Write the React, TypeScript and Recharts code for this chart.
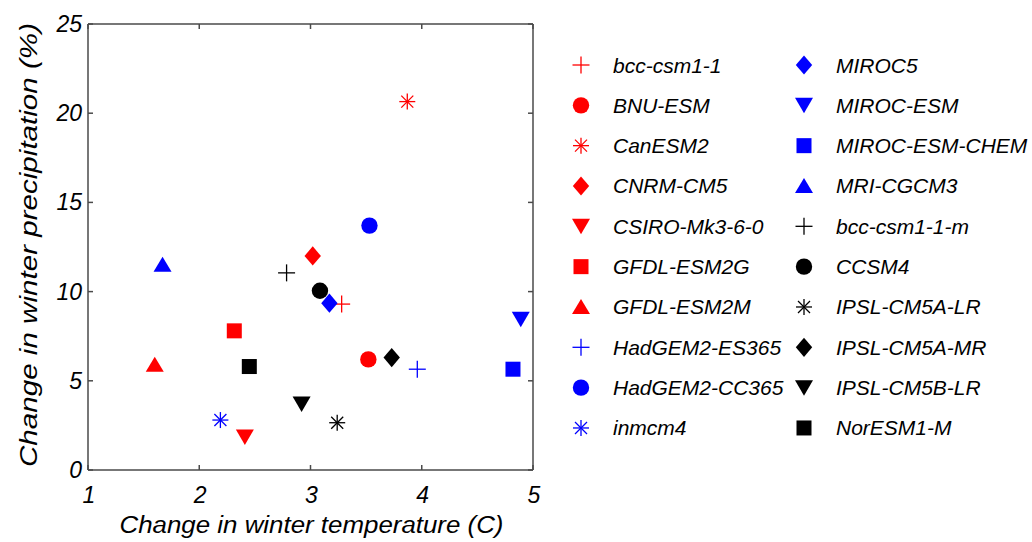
import React from 'react';
import { ScatterChart, Scatter, XAxis, YAxis, Legend, Label } from 'recharts';

const models = [
  'bcc-csm1-1', 'BNU-ESM', 'CanESM2', 'CNRM-CM5', 'CSIRO-Mk3-6-0',
  'GFDL-ESM2G', 'GFDL-ESM2M', 'HadGEM2-ES365', 'HadGEM2-CC365', 'inmcm4',
  'MIROC5', 'MIROC-ESM', 'MIROC-ESM-CHEM', 'MRI-CGCM3', 'bcc-csm1-1-m',
  'CCSM4', 'IPSL-CM5A-LR', 'IPSL-CM5A-MR', 'IPSL-CM5B-LR', 'NorESM1-M',
];
const colors = [
  '#ff0000', '#ff0000', '#ff0000', '#ff0000', '#ff0000',
  '#ff0000', '#ff0000', '#0000ff', '#0000ff', '#0000ff',
  '#0000ff', '#0000ff', '#0000ff', '#0000ff', '#000000',
  '#000000', '#000000', '#000000', '#000000', '#000000',
];
const shapes = [
  'plus', 'circle', 'asterisk', 'diamond', 'down',
  'square', 'up', 'plus', 'circle', 'asterisk',
  'diamond', 'down', 'square', 'up', 'plus',
  'circle', 'asterisk', 'diamond', 'down', 'square',
];
const tempChange = [
  3.28, 3.52, 3.87, 3.02, 2.41,
  2.315, 1.6, 3.96, 3.53, 2.19,
  3.17, 4.89, 4.82, 1.67, 2.785,
  3.085, 3.24, 3.73, 2.92, 2.45,
];
const precipChange = [
  9.3, 6.2, 20.65, 12.0, 1.85,
  7.8, 5.9, 5.65, 13.7, 2.8,
  9.35, 8.45, 5.65, 11.5, 11.05,
  10.05, 2.65, 6.3, 3.7, 5.8,
];
const xTicks = [1, 2, 3, 4, 5];
const yTicks = [0, 5, 10, 15, 20, 25];
const xTitle = 'Change in winter temperature (C)';
const yTitle = 'Change in winter precipitation (%)';

const FONT = '"Liberation Sans", Arial, sans-serif';
const AXIS = '#4a4a4a';

function Marker({ cx, cy, shape, color }: { cx: number; cy: number; shape: string; color: string }) {
  if (cx == null || cy == null || isNaN(cx) || isNaN(cy)) return null;
  switch (shape) {
    case 'plus':
      return (
        <g stroke={color} strokeWidth={1.3}>
          <line x1={cx - 8.5} y1={cy} x2={cx + 8.5} y2={cy} />
          <line x1={cx} y1={cy - 8.5} x2={cx} y2={cy + 8.5} />
        </g>
      );
    case 'circle':
      return <circle cx={cx} cy={cy} r={8.2} fill={color} />;
    case 'asterisk': {
      const d = 6;
      return (
        <g stroke={color} strokeWidth={1.3}>
          <line x1={cx - 8} y1={cy} x2={cx + 8} y2={cy} />
          <line x1={cx} y1={cy - 8} x2={cx} y2={cy + 8} />
          <line x1={cx - d} y1={cy - d} x2={cx + d} y2={cy + d} />
          <line x1={cx - d} y1={cy + d} x2={cx + d} y2={cy - d} />
        </g>
      );
    }
    case 'diamond':
      return (
        <polygon
          points={`${cx},${cy - 9.6} ${cx + 8.2},${cy} ${cx},${cy + 9.6} ${cx - 8.2},${cy}`}
          fill={color}
        />
      );
    case 'down':
      return (
        <polygon
          points={`${cx - 9},${cy - 7.5} ${cx + 9},${cy - 7.5} ${cx},${cy + 8}`}
          fill={color}
        />
      );
    case 'up':
      return (
        <polygon
          points={`${cx - 9},${cy + 7} ${cx + 9},${cy + 7} ${cx},${cy - 8}`}
          fill={color}
        />
      );
    case 'square':
      return <rect x={cx - 7.5} y={cy - 7.5} width={15} height={15} fill={color} />;
    default:
      return null;
  }
}

const legendText = { fontFamily: FONT, fontSize: 21, fontStyle: 'italic' as const, fill: '#000' };
const tickText = { fontFamily: FONT, fontSize: 23, fontStyle: 'italic' as const, fill: '#000' };
const titleText = { fontFamily: FONT, fontSize: 23, fontStyle: 'italic' as const, fill: '#000' };

function BottomTick(props: any) {
  const { x, y, payload } = props;
  return (
    <g>
      <line x1={x} y1={y} x2={x} y2={y - 5} stroke={AXIS} strokeWidth={1.5} />
      <text x={x + 1} y={y + 33} textAnchor="middle" {...tickText}>{payload.value}</text>
    </g>
  );
}
function TopTick(props: any) {
  const { x, y } = props;
  return <line x1={x} y1={y} x2={x} y2={y + 5} stroke={AXIS} strokeWidth={1.5} />;
}
function LeftTick(props: any) {
  const { x, y, payload } = props;
  return (
    <g>
      <line x1={x} y1={y} x2={x + 5} y2={y} stroke={AXIS} strokeWidth={1.5} />
      <text x={x - 6} y={y + 8} textAnchor="end" {...tickText}>{payload.value}</text>
    </g>
  );
}
function RightTick(props: any) {
  const { x, y } = props;
  return <line x1={x} y1={y} x2={x - 5} y2={y} stroke={AXIS} strokeWidth={1.5} />;
}

function XTitle(props: any) {
  const vb = props.viewBox || { x: 88, y: 470, width: 445, height: 0 };
  const cx = vb.x + vb.width / 2 + 1;
  return (
    <text x={cx - 192} y={vb.y + 63} textLength={384} lengthAdjust="spacingAndGlyphs" {...titleText}>
      {xTitle}
    </text>
  );
}
function YTitle(props: any) {
  const vb = props.viewBox || { x: 87, y: 24, width: 1, height: 446 };
  const bx = vb.x + vb.width - 51;
  const cy = vb.y + vb.height / 2 - 2;
  return (
    <g transform={`rotate(-90 ${bx} ${cy})`}>
      <text x={bx - 222} y={cy} textLength={444} lengthAdjust="spacingAndGlyphs" {...titleText}>
        {yTitle}
      </text>
    </g>
  );
}

function LegendBox() {
  const rowH = 40.33;
  return (
    <svg width={472} height={420} style={{ display: 'block', overflow: 'visible' }}>
      {models.map((m, i) => {
        const col = i < 10 ? 0 : 1;
        const row = i % 10;
        const mx = col === 0 ? 21 : 244;
        const tx = col === 0 ? 53 : 276;
        const cy = 25 + row * rowH;
        return (
          <g key={m}>
            <Marker cx={mx} cy={cy} shape={shapes[i]} color={colors[i]} />
            <text x={tx} y={cy + 7.5} {...legendText}>{m}</text>
          </g>
        );
      })}
    </svg>
  );
}

export default function App() {
  return (
    <div style={{ position: 'absolute', left: 0, top: 0, width: 1032, height: 542, background: '#fff' }}>
      <ScatterChart width={1032} height={542} margin={{ top: 23, right: 498, bottom: 71, left: 87 }}>
        <XAxis
          xAxisId="b" type="number" dataKey="x" domain={[1, 5]} ticks={xTicks}
          height={1} tickSize={0} tickMargin={0} tick={<BottomTick />}
          axisLine={{ stroke: AXIS, strokeWidth: 1.5 }} tickLine={false} allowDataOverflow
          label={<Label content={<XTitle />} />}
        />
        <XAxis
          xAxisId="t" orientation="top" type="number" dataKey="x" domain={[1, 5]} ticks={xTicks}
          height={1} tickSize={0} tickMargin={0} tick={<TopTick />}
          axisLine={{ stroke: AXIS, strokeWidth: 1.5 }} tickLine={false} allowDataOverflow
        />
        <YAxis
          yAxisId="l" type="number" dataKey="y" domain={[0, 25]} ticks={yTicks}
          width={1} tickSize={0} tickMargin={0} tick={<LeftTick />}
          axisLine={{ stroke: AXIS, strokeWidth: 1.5 }} tickLine={false} allowDataOverflow
          label={<Label content={<YTitle />} />}
        />
        <YAxis
          yAxisId="r" orientation="right" type="number" dataKey="y" domain={[0, 25]} ticks={yTicks}
          width={1} tickSize={0} tickMargin={0} tick={<RightTick />}
          axisLine={{ stroke: AXIS, strokeWidth: 1.5 }} tickLine={false} allowDataOverflow
        />
        <Legend
          layout="vertical" align="center" verticalAlign="middle"
          wrapperStyle={{ left: 560, top: 40, width: 472, height: 420 }}
          content={() => <LegendBox />}
        />
        {models.map((m, i) => (
          <Scatter
            key={m}
            name={m}
            xAxisId="b"
            yAxisId="l"
            data={[{ x: tempChange[i], y: precipChange[i] }]}
            isAnimationActive={false}
            shape={(p: any) => <Marker cx={p.cx} cy={p.cy} shape={shapes[i]} color={colors[i]} />}
          />
        ))}
      </ScatterChart>
    </div>
  );
}
